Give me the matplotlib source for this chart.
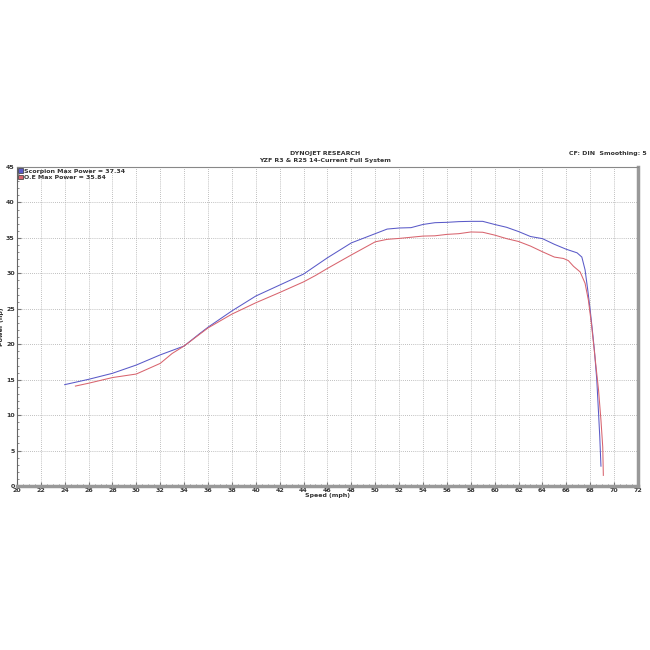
import matplotlib.pyplot as plt
from matplotlib.patches import Patch
from matplotlib.ticker import MultipleLocator

# Scorpion exhaust run
scorp_speed = [24, 26, 28, 30, 32, 34, 35.3, 36, 38, 40, 42, 44, 46, 48, 50, 51, 52, 53, 54,
               55, 56, 57, 58, 59, 60, 61, 62, 63, 64, 65, 66, 66.9, 67.3, 67.57, 67.8, 68.0,
               68.18, 68.35, 68.55, 68.7, 68.8, 68.9]
scorp_power = [14.3, 15.05, 15.9, 17.07, 18.5, 19.75, 21.5, 22.4, 24.7, 26.8, 28.35, 29.9,
               32.2, 34.3, 35.6, 36.25, 36.4, 36.45, 36.9, 37.15, 37.2, 37.3, 37.34, 37.34,
               36.9, 36.5, 35.9, 35.2, 34.9, 34.1, 33.4, 32.9, 32.3, 30.5, 27.6, 24.8, 22.0,
               19.2, 15.0, 10.25, 7.0, 2.8]

# stock (O.E) run
oe_speed = [24.9, 26, 28, 30, 32, 33, 34, 36, 38, 40, 42, 44, 45, 46, 48, 50, 51, 52, 54, 55,
            56, 57, 58, 59, 60, 61, 62, 63, 64, 65, 65.76, 66.17, 66.6, 67.16, 67.57, 67.85,
            68.1, 68.4, 68.7, 68.9, 69.05, 69.1]
oe_power = [14.1, 14.5, 15.3, 15.8, 17.3, 18.7, 19.75, 22.3, 24.25, 25.85, 27.3, 28.8, 29.7,
            30.7, 32.6, 34.45, 34.8, 34.93, 35.26, 35.3, 35.5, 35.6, 35.84, 35.8, 35.4, 34.9,
            34.5, 33.85, 33.05, 32.3, 32.1, 31.8, 31.0, 30.2, 28.6, 26.2, 22.9, 18.2, 13.5,
            9.3, 5.5, 1.5]

blue = '#5a5ac8'
red = '#d8646e'
txt = '#333333'

fig = plt.figure(figsize=(6.5, 6.5), dpi=100)
ax = fig.add_axes([0.026, 0.2523, 0.9555, 0.4907])

ax.plot(scorp_speed, scorp_power, color=blue, lw=0.75)
ax.plot(oe_speed, oe_power, color=red, lw=0.75)

ax.set_xlim(20, 72)
ax.set_ylim(0, 45)
ax.xaxis.set_major_locator(MultipleLocator(2))
ax.yaxis.set_major_locator(MultipleLocator(5))
ax.xaxis.set_minor_locator(MultipleLocator(0.5))
ax.yaxis.set_minor_locator(MultipleLocator(1))
ax.grid(True, which='major', color='#aaaaaa', ls=(0, (1, 1.5)), lw=0.6)
ax.tick_params(which='both', direction='in', colors='#777777', labelcolor=txt,
               labelsize=4.5, pad=1.5)
ax.tick_params(which='major', length=3)
ax.tick_params(which='minor', length=1.5)
for lab in ax.get_xticklabels() + ax.get_yticklabels():
    lab.set_fontweight('bold')

ax.spines['top'].set_color('#888888')
ax.spines['top'].set_linewidth(0.8)
ax.spines['left'].set_color('#666666')
ax.spines['left'].set_linewidth(0.8)
ax.spines['right'].set_color('#999999')
ax.spines['right'].set_linewidth(2.5)
ax.spines['bottom'].set_color('#999999')
ax.spines['bottom'].set_linewidth(2.5)

ax.set_xlabel('Speed (mph)', fontsize=4.5, fontweight='bold', color=txt, labelpad=0)
ax.set_ylabel('Power (hp)', fontsize=4.5, fontweight='bold', color=txt)
ax.yaxis.set_label_coords(-0.02, 0.5)

fig.text(0.5, 0.762, 'DYNOJET RESEARCH', ha='center', fontsize=4.5, fontweight='bold', color=txt)
fig.text(0.5, 0.751, 'YZF R3 & R25 14-Current Full System', ha='center', fontsize=4.5,
         fontweight='bold', color=txt)
fig.text(0.995, 0.762, 'CF: DIN  Smoothing: 5', ha='right', fontsize=4.5, fontweight='bold',
         color=txt)

handles = [Patch(facecolor=blue, edgecolor='#333333', lw=0.5),
           Patch(facecolor=red, edgecolor='#333333', lw=0.5)]
leg = ax.legend(handles, ['Scorpion Max Power = 37.34', 'O.E Max Power = 35.84'],
                loc='upper left', bbox_to_anchor=(0.0, 1.0), frameon=False,
                handlelength=0.7, handleheight=0.7, handletextpad=0.2, labelspacing=0.15,
                borderpad=0.1, borderaxespad=0.1, prop={'weight': 'bold', 'size': 4.5})
for t in leg.get_texts():
    t.set_color(txt)

fig.savefig('out.png', dpi=100, facecolor='white')
